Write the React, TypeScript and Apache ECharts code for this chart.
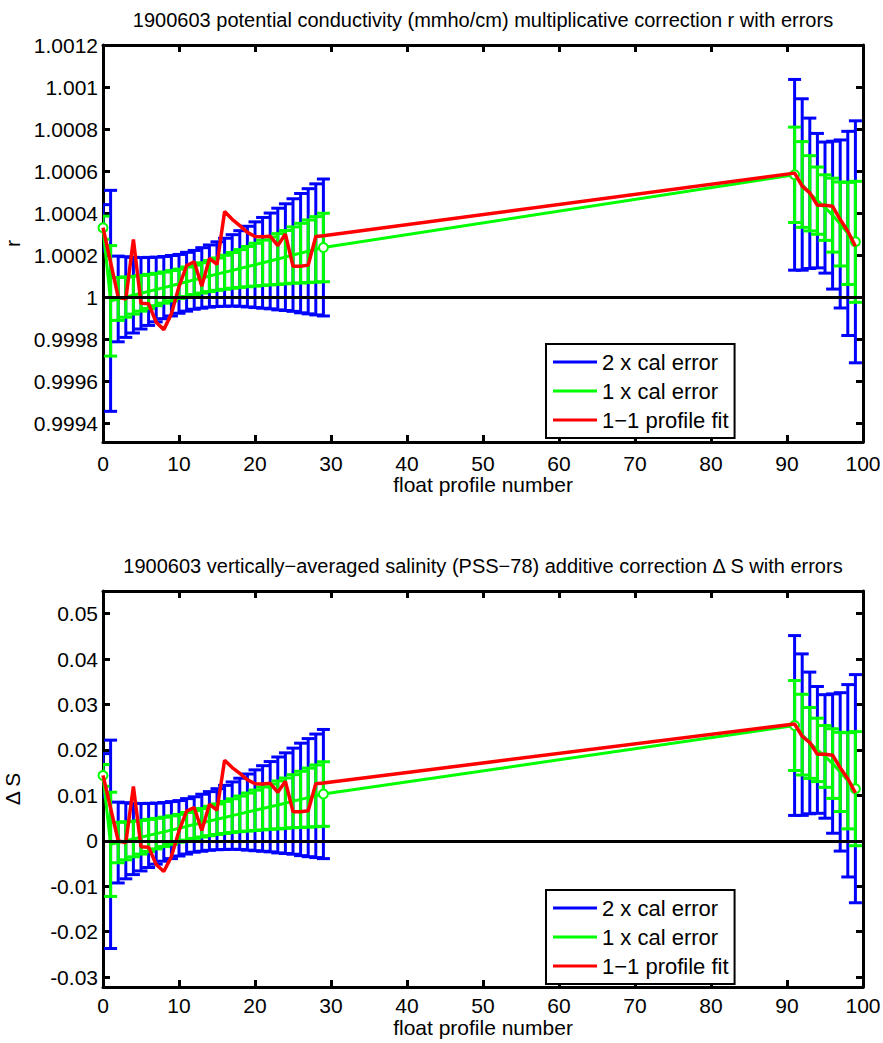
import React, { useEffect, useRef } from "react";
import * as echarts from "echarts";

// ---------- data ----------
const profiles = [
  0, 1, 2, 3, 4, 5, 6, 7, 8, 9, 10, 11, 12, 13, 14, 15, 16, 17, 18, 19, 20,
  21, 22, 23, 24, 25, 26, 27, 28, 29, 91, 92, 93, 94, 95, 96, 97, 98, 99,
];

// potential conductivity multiplicative correction r
const rCal = [
  1.00033, 0.999982, 0.999991, 1.0, 1.000009, 1.000018, 1.000027, 1.000036,
  1.000045, 1.000054, 1.000063, 1.000073, 1.000082, 1.000091, 1.0001, 1.000109,
  1.000118, 1.000127, 1.000136, 1.000145, 1.000154, 1.000163, 1.000172,
  1.000181, 1.00019, 1.0002, 1.000209, 1.000218, 1.000227, 1.000236, 1.000582,
  1.000536, 1.000494, 1.000459, 1.000426, 1.00039, 1.000348, 1.000303, 1.000263,
];
const rErr = [
  0.000055, 0.000263, 0.000102, 0.000096, 0.00009, 0.000085, 0.000081, 0.000077,
  0.000074, 0.000072, 0.00007, 0.00007, 0.00007, 0.000072, 0.000074, 0.000077,
  0.000081, 0.000085, 0.00009, 0.000096, 0.000102, 0.000108, 0.000114, 0.000121,
  0.000127, 0.000134, 0.000142, 0.000149, 0.000156, 0.000163, 0.000227,
  0.000204, 0.000179, 0.00016, 0.000156, 0.000176, 0.0002, 0.000243, 0.000288,
];
const rFit = [
  1.00033, 1.000165, 1.0, 0.99999, 1.000274, 0.99997, 0.999968, 0.99988,
  0.999845, 0.99992, 1.00005, 1.00015, 1.000168, 1.000052, 1.000184, 1.000155,
  1.000407, 1.00037, 1.00034, 1.000308, 1.000288, 1.000287, 1.00029, 1.000245,
  1.0003, 1.000147, 1.000147, 1.000152, 1.000288, 1.000292, 1.00059, 1.000528,
  1.000496, 1.000437, 1.000437, 1.000432, 1.000369, 1.000313, 1.000242,
];

// vertically-averaged salinity additive correction dS
const sCal = [
  0.01439, -0.00078, -0.00039, 0, 0.00039, 0.00078, 0.00118, 0.00157, 0.00196,
  0.00235, 0.00275, 0.00318, 0.00358, 0.00397, 0.00436, 0.00475, 0.00514,
  0.00554, 0.00593, 0.00632, 0.00671, 0.00711, 0.0075, 0.00789, 0.00828,
  0.00872, 0.00911, 0.0095, 0.0099, 0.01029, 0.02538, 0.02337, 0.02154, 0.02001,
  0.01857, 0.017, 0.01517, 0.01321, 0.01147,
];
const sErr = [
  0.0024, 0.01147, 0.00445, 0.00419, 0.00392, 0.00371, 0.00353, 0.00336,
  0.00323, 0.00314, 0.00305, 0.00305, 0.00305, 0.00314, 0.00323, 0.00336,
  0.00353, 0.00371, 0.00392, 0.00419, 0.00445, 0.00471, 0.00497, 0.00528,
  0.00554, 0.00584, 0.00619, 0.0065, 0.0068, 0.00711, 0.0099, 0.00889, 0.0078,
  0.00698, 0.0068, 0.00767, 0.00872, 0.01059, 0.01256,
];
const sFit = [
  0.01439, 0.00719, 0, -0.00044, 0.01195, -0.00131, -0.0014, -0.00523, -0.00676,
  -0.00349, 0.00218, 0.00654, 0.00732, 0.00227, 0.00802, 0.00676, 0.01775,
  0.01613, 0.01482, 0.01343, 0.01256, 0.01251, 0.01264, 0.01068, 0.01308,
  0.00641, 0.00641, 0.00663, 0.01256, 0.01273, 0.02572, 0.02302, 0.02163,
  0.01905, 0.01905, 0.01884, 0.01609, 0.01365, 0.01055,
];

const markerProfiles = [0, 29, 91, 99];
const xTicks = [0, 10, 20, 30, 40, 50, 60, 70, 80, 90, 100];
const rTicks = [
  0.9994, 0.9996, 0.9998, 1, 1.0002, 1.0004, 1.0006, 1.0008, 1.001, 1.0012,
];
const sTicks = [-0.03, -0.02, -0.01, 0, 0.01, 0.02, 0.03, 0.04, 0.05];

const titles = [
  "1900603 potential conductivity (mmho/cm) multiplicative correction r with errors",
  "1900603 vertically\u2212averaged salinity (PSS\u221278) additive correction \u0394 S with errors",
];
const legendNames = ["2 x cal error", "1 x cal error", "1\u22121 profile fit"];

// ---------- presentation ----------
const FONT = "'Liberation Sans', Arial, Helvetica, sans-serif";
const FS_TICK = 21;
const FS_NAME = 21;
const FS_TITLE = 20;
const FS_LEGEND = 22;
const BLUE = "#0000ff";
const GREEN = "#00ff00";
const RED = "#ff0000";

const GRID_LEFT = 103;
const GRID_W = 760;
const GRID_HS = [397, 396];
const GRID_TOPS = [45, 591];
const LABEL_MARGINS = [11, 8];
const NAME_GAPS = [32, 30];

function fmt(v: number, d: number) {
  const n = parseFloat(Number(v).toFixed(d));
  return String(Object.is(n, -0) ? 0 : n);
}

function errorBars(name: string, color: string, g: number, cal: number[], err: number[], k: number) {
  return {
    type: "custom",
    name,
    xAxisIndex: g * 2,
    yAxisIndex: g * 2,
    itemStyle: { color },
    clip: true,
    z: 2,
    encode: { x: 0, y: [1, 2] },
    data: profiles.map((p, i) => [p, cal[i] - k * err[i], cal[i] + k * err[i]]),
    renderItem: (params: any, api: any) => {
      const x = api.value(0);
      const lo = api.coord([x, api.value(1)]);
      const hi = api.coord([x, api.value(2)]);
      const w = 6.5;
      const style = { stroke: color, lineWidth: 3, fill: null };
      return {
        type: "group",
        children: [
          { type: "line", shape: { x1: lo[0], y1: lo[1], x2: hi[0], y2: hi[1] }, style },
          { type: "line", shape: { x1: lo[0] - w, y1: lo[1], x2: lo[0] + w, y2: lo[1] }, style },
          { type: "line", shape: { x1: hi[0] - w, y1: hi[1], x2: hi[0] + w, y2: hi[1] }, style },
        ],
      };
    },
  };
}

function buildOption() {
  const panels = [
    { cal: rCal, err: rErr, fit: rFit, ref: 1, min: 0.99931, max: 1.0012, ticks: rTicks, dec: 4, yName: "r" },
    { cal: sCal, err: sErr, fit: sFit, ref: 0, min: -0.0322, max: 0.055, ticks: sTicks, dec: 2, yName: "\u0394 S" },
  ];

  const grid: any[] = [];
  const xAxis: any[] = [];
  const yAxis: any[] = [];
  const series: any[] = [];
  const legend: any[] = [];
  const graphic: any[] = [];

  const axisLine = { onZero: false, lineStyle: { color: "#000", width: 3 } };
  const axisTick = { inside: true, length: 7, lineStyle: { color: "#000", width: 3 } };

  panels.forEach((p, g) => {
    const top = GRID_TOPS[g];
    const h = GRID_HS[g];
    grid.push({
      left: GRID_LEFT,
      top,
      width: GRID_W,
      height: h,
      containLabel: false,
      outerBoundsMode: "none",
    });

    xAxis.push({
      gridIndex: g,
      type: "value",
      position: "bottom",
      min: 0,
      max: 100,
      interval: 10,
      axisLine,
      axisTick,
      splitLine: { show: false },
      axisLabel: {
        color: "#000",
        fontSize: FS_TICK,
        lineHeight: 21,
        fontFamily: FONT,
        margin: LABEL_MARGINS[g],
        customValues: xTicks,
      },
      name: "float profile number",
      nameLocation: "middle",
      nameGap: NAME_GAPS[g],
      nameMoveOverlap: false,
      nameTextStyle: { color: "#000", fontSize: FS_NAME, lineHeight: 21, fontFamily: FONT },
    });
    xAxis.push({
      gridIndex: g,
      type: "value",
      position: "top",
      min: 0,
      max: 100,
      interval: 10,
      axisLine,
      axisTick,
      splitLine: { show: false },
      axisLabel: { show: false },
    });

    yAxis.push({
      gridIndex: g,
      type: "value",
      position: "left",
      min: p.min,
      max: p.max,
      axisLine,
      axisTick: { ...axisTick, customValues: p.ticks },
      splitLine: { show: false },
      axisLabel: {
        color: "#000",
        fontSize: FS_TICK,
        fontFamily: FONT,
        margin: 5,
        customValues: p.ticks,
        formatter: (v: number) => fmt(v, p.dec),
      },
      name: p.yName,
      nameLocation: "middle",
      nameRotate: 90,
      nameGap: 80,
      nameMoveOverlap: false,
      nameTextStyle: { color: "#000", fontSize: FS_NAME, fontFamily: FONT },
    });
    yAxis.push({
      gridIndex: g,
      type: "value",
      position: "right",
      min: p.min,
      max: p.max,
      axisLine,
      axisTick: { ...axisTick, customValues: p.ticks },
      splitLine: { show: false },
      axisLabel: { show: false },
    });

    series.push(errorBars(legendNames[0], BLUE, g, p.cal, p.err, 2));
    series.push(errorBars(legendNames[1], GREEN, g, p.cal, p.err, 1));
    series.push({
      type: "line",
      name: legendNames[1],
      xAxisIndex: g * 2,
      yAxisIndex: g * 2,
      z: 3,
      color: GREEN,
      itemStyle: { color: GREEN, borderColor: GREEN, borderWidth: 3 },
      lineStyle: { color: GREEN, width: 3 },
      showSymbol: true,
      showAllSymbol: true,
      data: profiles.map((x, i) =>
        markerProfiles.includes(x)
          ? { value: [x, p.cal[i]], symbol: "emptyCircle", symbolSize: 9 }
          : { value: [x, p.cal[i]], symbol: "none" }
      ),
      markLine: {
        silent: true,
        symbol: "none",
        label: { show: false },
        lineStyle: { color: "#000", width: 3, type: "solid" },
        data: [{ yAxis: p.ref }],
      },
    });
    series.push({
      type: "line",
      name: legendNames[2],
      xAxisIndex: g * 2,
      yAxisIndex: g * 2,
      z: 4,
      color: RED,
      itemStyle: { color: RED },
      lineStyle: { color: RED, width: 3.5 },
      symbol: "none",
      data: profiles.map((x, i) => [x, p.fit[i]]),
    });

    legend.push({
      left: 546,
      top: top + 299,
      orient: "vertical",
      backgroundColor: "#fff",
      borderColor: "#000",
      borderWidth: 2,
      borderRadius: 0,
      padding: [7, 6, 7, 7],
      itemGap: 7,
      itemWidth: 44,
      itemHeight: 3,
      selectedMode: false,
      textStyle: { color: "#000", fontSize: FS_LEGEND, fontFamily: FONT, lineHeight: 20 },
      data: legendNames.map((n) => ({ name: n, icon: "rect" })),
    });

    graphic.push({
      type: "text",
      x: GRID_LEFT + GRID_W / 2,
      y: top - 25,
      style: {
        text: titles[g],
        fill: "#000",
        font: `${FS_TITLE}px ${FONT}`,
        align: "center",
        verticalAlign: "middle",
        textAlign: "center",
        textVerticalAlign: "middle",
      },
    });
  });

  return {
    animation: false,
    backgroundColor: "#fff",
    grid,
    xAxis,
    yAxis,
    series,
    legend,
    graphic,
  };
}

export default function App() {
  const ref = useRef<HTMLDivElement>(null);
  useEffect(() => {
    if (!ref.current) return;
    const chart = echarts.init(ref.current, null, { renderer: "svg" });
    chart.setOption(buildOption() as any);
    return () => chart.dispose();
  }, []);
  return (
    <div
      ref={ref}
      style={{ position: "absolute", left: 0, top: 0, width: 883, height: 1043, background: "#fff" }}
    />
  );
}
